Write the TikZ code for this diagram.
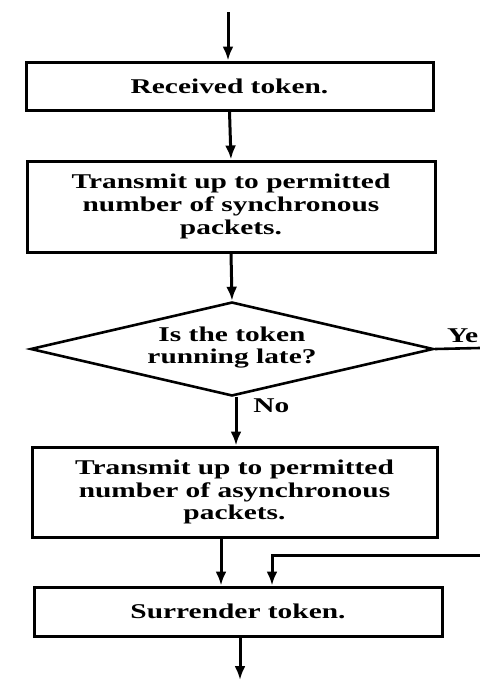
\documentclass[tikz,border=0pt]{standalone}
\usepackage{fontspec}
\setmainfont[FakeStretch=1.4]{Liberation Serif}
\usetikzlibrary{shapes.geometric,arrows.meta,calc}
\begin{document}
\begin{tikzpicture}[x=0.5pt,y=-0.5pt,
  every node/.style={font=\fontsize{10.5}{11.3}\selectfont\bfseries},
  stepbox/.style={draw,line width=1.5pt,align=center,inner sep=0pt},
  decision/.style={draw,diamond,line width=1.3pt,align=center,inner sep=0pt,
     minimum width=201.5pt,minimum height=47pt},
  arr/.style={line width=1.5pt,-{Latex[length=7pt,width=5.5pt]}},
  lbl/.style={inner sep=0pt}]
\fill[white] (0,0) rectangle (480,680);
\useasboundingbox (0,0) rectangle (480,680);

\node[stepbox,minimum width=203.5pt,minimum height=24pt] (b1) at (229.5,86) {Received token.};
\node[stepbox,minimum width=204pt,minimum height=45.5pt] (b2) at (231,206.5)
  {Transmit up to permitted\\number of synchronous\\packets.};
\node[decision] (d) at (232,349) {};
\node[lbl,align=center] (dt) at (232,347.5) {Is the token\\running late?};
\node[stepbox,minimum width=202.5pt,minimum height=45pt] (b3) at (234.5,492)
  {Transmit up to permitted\\number of asynchronous\\packets.};
\node[stepbox,minimum width=204pt,minimum height=24.5pt] (b4) at (238,611.5) {Surrender token.};

\coordinate (start) at (228,12);
\coordinate (yesend) at (480,348);
\coordinate (loopin) at (480,555);
\coordinate (endpt) at (240,680);

\draw[arr] (start) -- (start |- b1.north);
\draw[arr] (b1.south) -- (b2.north);
\draw[arr] (b2.south) -- (d.north);
\draw[arr] ([xshift=2pt]d.south) -- ([xshift=2pt]d.south |- b3.north);
\draw[arr] ([xshift=-6.75pt]b3.south) -- ([xshift=-8.5pt]b4.north);
\draw[line width=1.3pt] (d.east) -- (yesend);
\draw[arr] (loopin) -| ([xshift=17pt]b4.north);
\draw[arr] ([xshift=1pt]b4.south) -- (endpt);

\node[lbl,anchor=west] (no) at ([xshift=10.5pt,yshift=-4pt]d.south) {No};
\node[lbl,anchor=south west] (yes) at ([xshift=6pt,yshift=3pt]d.east) {Ye};
\end{tikzpicture}
\end{document}
